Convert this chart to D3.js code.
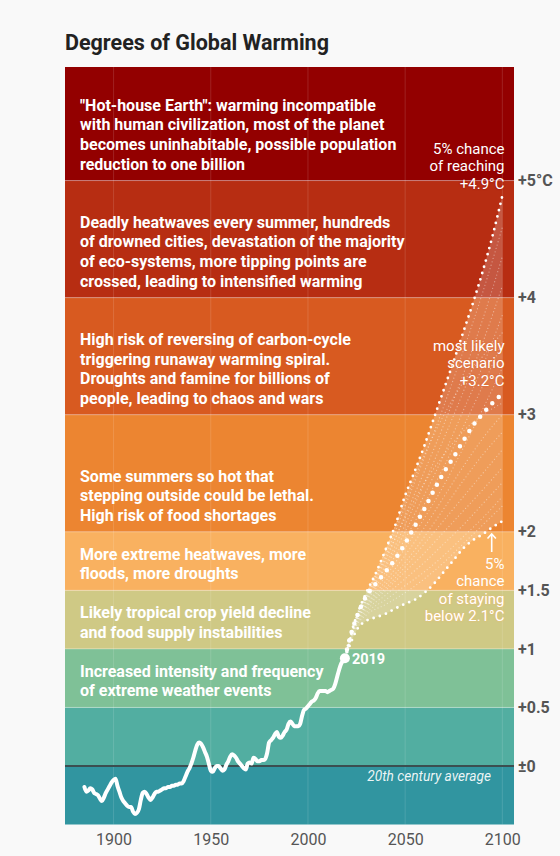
<!DOCTYPE html>
<html>
<head>
<meta charset="utf-8">
<script src="https://cdn.jsdelivr.net/npm/d3@7"></script>
<style>
  body { margin: 0; background: #f9f9f9; font-family: Roboto, "Open Sans", sans-serif; }
  svg { display: block; }
</style>
</head>
<body>
<svg id="chart"></svg>
<script>

// warming bands (degrees C above 20th century average)
var bandLows = [-0.5, 0, 0.5, 1, 1.5, 2, 3, 4, 5];
var bandHighs = [0, 0.5, 1, 1.5, 2, 3, 4, 5, 5.97];
var bandColors = ["#3195a0", "#52aea1", "#7fc197", "#cfc985", "#f9b160", "#ec8531", "#d85a20", "#b72d12", "#930000"];
var bandTexts = [
    [],
    [],
    ["Increased intensity and frequency", "of extreme weather events"],
    ["Likely tropical crop yield decline", "and food supply instabilities"],
    ["More extreme heatwaves, more", "floods, more droughts"],
    ["Some summers so hot that", "stepping outside could be lethal.", "High risk of food shortages"],
    ["High risk of reversing of carbon-cycle", "triggering runaway warming spiral.", "Droughts and famine for billions of", "people, leading to chaos and wars"],
    ["Deadly heatwaves every summer, hundreds", "of drowned cities, devastation of the majority", "of eco-systems, more tipping points are", "crossed, leading to intensified warming"],
    ["\"Hot-house Earth\": warming incompatible", "with human civilization, most of the planet", "becomes uninhabitable, possible population", "reduction to one billion"]
];

var yTicks = [0, 0.5, 1, 1.5, 2, 3, 4, 5];
var yTickLabels = ["\u00b10", "+0.5", "+1", "+1.5", "+2", "+3", "+4", "+5\u00b0C"];
var xTicks = [1900, 1950, 2000, 2050, 2100];

// observed temperature anomaly (smoothed)
var histYears = [1885,1886,1887,1888,1889,1890,1891,1892,1893,1894,1895,1896,1897,1898,1899,
    1900,1901,1902,1903,1904,1905,1906,1907,1908,1909,1910,1911,1912,1913,1914,1915,1916,1917,1918,1919,
    1920,1921,1922,1923,1924,1925,1926,1927,1928,1929,1930,1931,1932,1933,1934,1935,1936,1937,1938,1939,
    1940,1941,1942,1943,1944,1945,1946,1947,1948,1949,1950,1951,1952,1953,1954,1955,1956,1957,1958,1959,
    1960,1961,1962,1963,1964,1965,1966,1967,1968,1969,1970,1971,1972,1973,1974,1975,1976,1977,1978,1979,
    1980,1981,1982,1983,1984,1985,1986,1987,1988,1989,1990,1991,1992,1993,1994,1995,1996,1997,1998,1999,
    2000,2001,2002,2003,2004,2005,2006,2007,2008,2009,2010,2011,2012,2013,2014,2015,2016,2017,2018,2019];
var histTemps = [-0.18,-0.22,-0.21,-0.19,-0.20,-0.23,-0.24,-0.25,-0.28,-0.30,-0.27,-0.23,-0.20,-0.17,-0.14,
    -0.12,-0.11,-0.17,-0.22,-0.27,-0.30,-0.32,-0.34,-0.35,-0.35,-0.39,-0.41,-0.40,-0.37,-0.29,-0.23,-0.22,-0.24,-0.27,-0.29,
    -0.27,-0.24,-0.22,-0.22,-0.21,-0.20,-0.19,-0.19,-0.18,-0.18,-0.17,-0.17,-0.16,-0.16,-0.15,-0.15,-0.13,-0.09,-0.05,-0.02,
    0.02,0.07,0.13,0.18,0.20,0.19,0.16,0.12,0.08,0.02,-0.04,-0.05,-0.02,0.00,0.00,-0.02,-0.04,-0.03,0.01,0.04,
    0.08,0.10,0.09,0.07,0.04,0.02,0.00,-0.02,-0.03,0.02,0.03,0.02,0.07,0.06,0.04,0.04,0.05,0.05,0.06,0.11,
    0.20,0.22,0.24,0.27,0.29,0.25,0.24,0.26,0.29,0.31,0.36,0.38,0.36,0.34,0.34,0.34,0.36,0.43,0.48,0.49,
    0.51,0.53,0.55,0.56,0.58,0.62,0.64,0.64,0.64,0.64,0.63,0.64,0.65,0.66,0.70,0.76,0.82,0.87,0.90,0.92];

// projections to 2100
var projYears = [2019, 2022, 2025, 2030, 2035, 2040, 2045, 2050, 2055, 2060, 2065, 2070, 2075, 2080, 2085, 2090, 2095, 2100];
var upperTemps = [0.92, 1.12, 1.28, 1.48, 1.65, 1.85, 2.06, 2.31, 2.52, 2.74, 2.98, 3.22, 3.46, 3.71, 3.96, 4.23, 4.53, 4.87];
var likelyTemps = [0.92, 1.12, 1.27, 1.45, 1.56, 1.66, 1.77, 1.90, 2.05, 2.20, 2.36, 2.51, 2.64, 2.78, 2.91, 3.01, 3.10, 3.18];
var lowerTemps = [0.92, 1.05, 1.16, 1.24, 1.27, 1.30, 1.345, 1.385, 1.42, 1.48, 1.56, 1.66, 1.76, 1.86, 1.93, 1.98, 2.04, 2.09];

// other model runs
var runYears = [2019, 2025, 2030, 2040, 2050, 2060, 2070, 2080, 2090, 2100];
var runTemps = [
    [0.92, 1.28, 1.46, 1.80, 2.22, 2.64, 3.08, 3.55, 4.05, 4.60],
    [0.92, 1.27, 1.44, 1.76, 2.14, 2.52, 2.92, 3.35, 3.82, 4.35],
    [0.92, 1.27, 1.43, 1.72, 2.06, 2.42, 2.80, 3.20, 3.62, 4.10],
    [0.92, 1.26, 1.42, 1.70, 2.00, 2.32, 2.66, 3.04, 3.42, 3.85],
    [0.92, 1.29, 1.47, 1.84, 2.26, 2.66, 3.00, 3.28, 3.50, 3.70],
    [0.92, 1.26, 1.41, 1.66, 1.94, 2.24, 2.56, 2.90, 3.25, 3.62],
    [0.92, 1.25, 1.40, 1.62, 1.86, 2.12, 2.40, 2.72, 3.05, 3.40],
    [0.92, 1.28, 1.45, 1.78, 2.12, 2.42, 2.66, 2.86, 3.00, 3.10],
    [0.92, 1.25, 1.38, 1.58, 1.80, 2.04, 2.30, 2.56, 2.80, 3.00],
    [0.92, 1.24, 1.37, 1.55, 1.74, 1.96, 2.20, 2.44, 2.66, 2.85],
    [0.92, 1.24, 1.36, 1.52, 1.70, 1.90, 2.10, 2.30, 2.50, 2.70],
    [0.92, 1.23, 1.35, 1.50, 1.66, 1.82, 2.00, 2.18, 2.36, 2.55],
    [0.92, 1.22, 1.33, 1.46, 1.60, 1.74, 1.90, 2.06, 2.24, 2.42],
    [0.92, 1.21, 1.31, 1.42, 1.54, 1.66, 1.80, 1.96, 2.12, 2.30],
    [0.92, 1.20, 1.29, 1.38, 1.48, 1.60, 1.74, 1.90, 2.06, 2.22]
];

var width = 560, height = 856;
var plotLeft = 65, plotRight = 514, plotTop = 67, plotBottom = 824.5;

var svg = d3.select("#chart")
    .attr("width", width)
    .attr("height", height);

var x = d3.scaleLinear().domain([1875, 2106]).range([plotLeft, plotRight]);
var y = d3.scaleLinear().domain([-0.5, 5.97]).range([plotBottom, plotTop]);

svg.append("text")
    .attr("x", 65)
    .attr("y", 50)
    .attr("fill", "#222")
    .style("font-size", "21.5px")
    .style("font-weight", "bold")
    .text("Degrees of Global Warming");

//Bands
svg.selectAll("rect.band")
    .data(bandLows)
    .enter()
    .append("rect")
    .attr("class", "band")
    .attr("x", plotLeft)
    .attr("width", plotRight - plotLeft)
    .attr("y", function(d, i) { return y(bandHighs[i]); })
    .attr("height", function(d, i) { return y(d) - y(bandHighs[i]); })
    .attr("fill", function(d, i) { return bandColors[i]; });

// vertical grid
svg.selectAll("line.vgrid")
    .data(xTicks)
    .enter()
    .append("line")
    .attr("x1", d => x(d)).attr("x2", d => x(d))
    .attr("y1", plotTop).attr("y2", plotBottom)
    .attr("stroke", "#fff")
    .attr("stroke-opacity", 0.13);

// band borders
svg.selectAll("line.border")
    .data(bandLows.slice(2))
    .enter()
    .append("line")
    .attr("x1", plotLeft).attr("x2", plotRight)
    .attr("y1", d => y(d)).attr("y2", d => y(d))
    .attr("stroke", "#fff")
    .attr("stroke-opacity", 0.3);

svg.append("line")
    .attr("x1", plotLeft).attr("x2", plotRight)
    .attr("y1", y(0)).attr("y2", y(0))
    .attr("stroke", "#3b4e50")
    .attr("stroke-width", 2);

svg.append("text")
    .attr("x", 491)
    .attr("y", y(0) + 15.5)
    .attr("text-anchor", "end")
    .attr("fill", "#fff")
    .attr("fill-opacity", 0.92)
    .style("font-size", "13.7px")
    .style("font-style", "italic")
    .text("20th century average");

// band descriptions, bottom aligned in each band
bandTexts.forEach(function(lines, i) {
    var base = y(bandLows[i]) - 11;
    lines.forEach(function(t, j) {
        svg.append("text")
            .attr("x", 80)
            .attr("y", base - (lines.length - 1 - j) * 19.6)
            .attr("fill", "#fff")
            .style("font-size", "16px")
            .style("font-weight", "bold")
            .text(t);
    });
});

// projection fan
var area = d3.area()
    .x((d, i) => x(projYears[i]))
    .y0((d, i) => y(lowerTemps[i]))
    .y1(d => y(d))
    .curve(d3.curveMonotoneX);

svg.append("path")
    .attr("d", area(upperTemps))
    .attr("fill", "#fff")
    .attr("fill-opacity", 0.2);

var runLine = d3.line()
    .x((d, i) => x(runYears[i]))
    .y(d => y(d))
    .curve(d3.curveMonotoneX);

svg.selectAll("path.run")
    .data(runTemps)
    .enter()
    .append("path")
    .attr("d", runLine)
    .attr("fill", "none")
    .attr("stroke", "#fff")
    .attr("stroke-opacity", 0.4)
    .attr("stroke-width", 1.3)
    .attr("stroke-linecap", "round")
    .attr("stroke-dasharray", "0 3.5");

var projLine = d3.line()
    .x((d, i) => x(projYears[i]))
    .y(d => y(d))
    .curve(d3.curveMonotoneX);

[upperTemps, lowerTemps].forEach(function(s) {
    svg.append("path")
        .attr("d", projLine(s))
        .attr("fill", "none")
        .attr("stroke", "#fff")
        .attr("stroke-width", 2.8)
        .attr("stroke-linecap", "round")
        .attr("stroke-dasharray", "0 6.5");
});

svg.append("path")
    .attr("d", projLine(likelyTemps))
    .attr("fill", "none")
    .attr("stroke", "#fff")
    .attr("stroke-width", 4.5)
    .attr("stroke-linecap", "round")
    .attr("stroke-dasharray", "0 9");

// observed
var histLine = d3.line()
    .x((d, i) => x(histYears[i]))
    .y(d => y(d))
    .curve(d3.curveMonotoneX);

svg.append("path")
    .attr("d", histLine(histTemps))
    .attr("fill", "none")
    .attr("stroke", "#fff")
    .attr("stroke-width", 4)
    .attr("stroke-linejoin", "round")
    .attr("stroke-linecap", "round");

var last = histTemps.length - 1;
svg.append("circle")
    .attr("cx", x(histYears[last]))
    .attr("cy", y(histTemps[last]))
    .attr("r", 5)
    .attr("fill", "#fff");

svg.append("text")
    .attr("x", x(histYears[last]) + 7)
    .attr("y", y(histTemps[last]) + 5.5)
    .attr("fill", "#fff")
    .style("font-size", "14.5px")
    .style("font-weight", "bold")
    .text(histYears[last]);

// annotations
function note(lines, yFirst, shadow) {
    lines.forEach(function(t, j) {
        svg.append("text")
            .attr("x", 504.5)
            .attr("y", yFirst + j * 17.5)
            .attr("text-anchor", "end")
            .attr("fill", "#fff")
            .style("font-size", "15px")
            .style("text-shadow", "0 0 2px " + shadow)
            .text(t);
    });
}
note(["5% chance", "of reaching", "+4.9\u00b0C"], 153.5, "#930000");
note(["most likely", "scenario", "+3.2\u00b0C"], 350.5, "#d85a20");
note(["5%", "chance", "of staying", "below 2.1\u00b0C"], 568.5, "#f9b160");

svg.append("path")
    .attr("d", "M491.7,552 L491.7,534 M487.5,538.5 L491.7,534 L495.9,538.5")
    .attr("fill", "none")
    .attr("stroke", "#fff")
    .attr("stroke-width", 1.6);

// axes
var yAxis = d3.axisRight(y)
    .tickValues(yTicks)
    .tickSize(0)
    .tickPadding(4)
    .tickFormat((d, i) => yTickLabels[i]);

var gy = svg.append("g")
    .attr("transform", "translate(" + plotRight + ",0)")
    .call(yAxis);
gy.select(".domain").remove();
gy.selectAll("text")
    .attr("fill", "#555")
    .style("font-family", "Roboto, sans-serif")
    .style("font-size", "16px")
    .style("font-weight", "bold");

var xAxis = d3.axisBottom(x)
    .tickValues(xTicks)
    .tickSize(0)
    .tickPadding(9)
    .tickFormat(d3.format("d"));

var gx = svg.append("g")
    .attr("transform", "translate(0," + plotBottom + ")")
    .call(xAxis);
gx.select(".domain").remove();
gx.selectAll("text")
    .attr("fill", "#555")
    .style("font-family", "Roboto, sans-serif")
    .style("font-size", "16px");

</script>
</body>
</html>
